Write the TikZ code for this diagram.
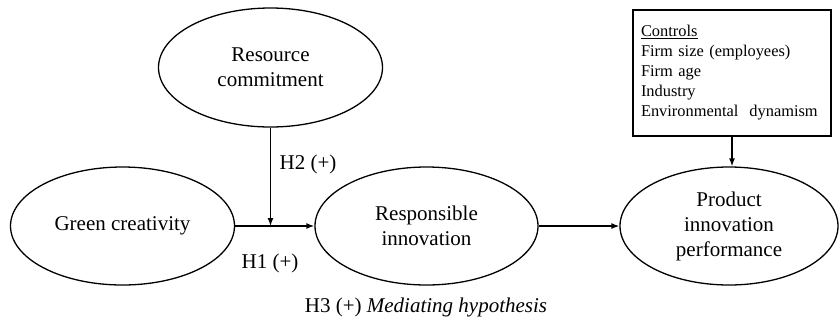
\documentclass[tikz,border=0pt]{standalone}
\usepackage{fontspec}
\setmainfont{Liberation Serif}
\usetikzlibrary{shapes.geometric,arrows.meta}
\tikzset{
  construct/.style={draw, ellipse, line width=1.3pt, inner sep=0pt,
    minimum width=224pt, minimum height=118pt, align=center,
    font=\fontsize{21}{25}\selectfont},
  link/.style={line width=1.3pt, -{Latex[length=8pt,width=6pt]}},
  hyp/.style={font=\fontsize{21}{25}\selectfont}
}
\begin{document}
\begin{tikzpicture}[x=1pt,y=-1pt]
\useasboundingbox (0,0) rectangle (840,322);
\node (gc) [construct] at (122.5,226) {Green creativity};
\node (rc) [construct, minimum height=119pt] at (270.5,67.5) {Resource\\commitment};
\node (ri) [construct, minimum width=223pt] at (426.5,226) {Responsible\\innovation};
\node (pip) [construct, minimum width=218pt] at (729,226) {Product\\innovation\\performance};
\node (ctrl) [draw, line width=1.3pt, text width=182pt, inner xsep=8pt,
  minimum height=126pt, align=left, font=\fontsize{16.4}{20}\selectfont] at (732,73) {
\underline{Controls}\\
Firm size (employees)\\
Firm age\\
Industry\\
Environmental\ \ dynamism
};
\coordinate (mod) at (rc.south |- gc.east);
\draw [link] (gc) -- (ri);
\draw [link] (rc) -- (mod);
\draw [link] (ri) -- (pip);
\draw [link] (ctrl) -- (ctrl.south |- pip.north);
\node (h1) [hyp] at (270,263) {H1 (+)};
\node (h2) [hyp] at (308,164) {H2 (+)};
\node (h3) [hyp] at (426,307) {H3 (+) \textit{Mediating hypothesis}};
\end{tikzpicture}
\end{document}
